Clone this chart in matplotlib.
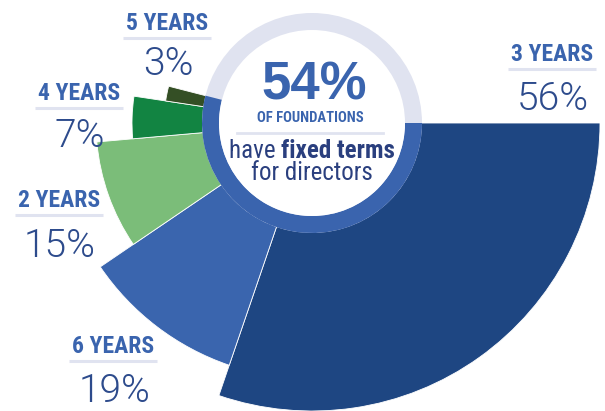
import matplotlib
matplotlib.use("Agg")
import matplotlib.pyplot as plt
from matplotlib.patches import Wedge, Circle
from matplotlib import font_manager

# data
terms = ["3 YEARS", "6 YEARS", "2 YEARS", "4 YEARS", "5 YEARS"]
shares = [56, 19, 15, 7, 3]
fixed_share = 54
headline_lines = ["OF FOUNDATIONS", "have", "fixed terms", "for directors"]

# style
wedge_colors = ["#1e4682", "#3a65ae", "#7bbd79", "#128442", "#344f25"]
wedge_radii = [288, 256, 216, 180, 148]
label_pos = [(552, 61, 110), (113, 353, 402), (59, 207, 257), (79, 100, 147), (167, 30, 75)]
label_halfwidth = 44
blue = "#3a64ae"
navy = "#2a3f7e"
pale = "#e0e3f0"
cx, cy = 312, 123


def pick(cands):
    names = {f.name for f in font_manager.fontManager.ttflist}
    for c in cands:
        if c in names:
            return c
    return "DejaVu Sans"


def light_props(size):
    # find a real "Light" face on disk, preferring Roboto
    for fam in ["Roboto", "Open Sans", "Lato", "Noto Sans"]:
        for f in font_manager.fontManager.ttflist:
            if f.name == fam and f.weight == 300 and f.style == "normal":
                return font_manager.FontProperties(fname=f.fname, size=size)
    return font_manager.FontProperties(family="DejaVu Sans", size=size)


narrow = pick(["Liberation Sans Narrow", "Roboto Condensed", "Open Sans Condensed", "Liberation Sans"])
pct_font = light_props(28)

fig = plt.figure(figsize=(6.05, 4.11), dpi=100)
ax = fig.add_axes([0, 0, 1, 1])
ax.set_xlim(0, 605)
ax.set_ylim(411, 0)
ax.axis("off")

# wedges, clockwise from the right (y axis is inverted)
total_angle = 360 * fixed_share / 100
start = 0
for share, color, r in zip(shares, wedge_colors, wedge_radii):
    span = total_angle * share / 100
    ax.add_patch(Wedge((cx, cy), r, start, start + span, facecolor=color,
                       edgecolor="white", linewidth=0.6, zorder=1))
    start += span

# center ring
ax.add_patch(Circle((cx, cy), 110, facecolor=pale, edgecolor="none", zorder=2))
ax.add_patch(Wedge((cx, cy), 110, 0, total_angle, width=17, facecolor=blue,
                   edgecolor="none", zorder=3))
ax.add_patch(Circle((cx, cy), 93, facecolor="white", edgecolor="none", zorder=4))

ax.text(cx + 2, 99, f"{fixed_share}%", ha="center", va="baseline", fontsize=38,
        fontweight="bold", color=blue, family="Liberation Sans", zorder=5)
ax.text(cx - 2, 122, headline_lines[0], ha="center", va="baseline", fontsize=10.5,
        fontweight="bold", color=blue, family=narrow, zorder=5)
ax.plot([237, 383], [133, 133], color=pale, linewidth=2, zorder=5)

# "have fixed terms" with mixed weight, centered as one line
fig.canvas.draw()
renderer = fig.canvas.get_renderer()
t1 = ax.text(0, 158, headline_lines[1] + " ", ha="left", va="baseline", fontsize=18,
             color=navy, family=narrow, zorder=5)
t2 = ax.text(0, 158, headline_lines[2], ha="left", va="baseline", fontsize=18,
             fontweight="bold", color=navy, family=narrow, zorder=5)
w1 = t1.get_window_extent(renderer).width
w2 = t2.get_window_extent(renderer).width
x0 = cx - (w1 + w2) / 2
t1.set_x(x0)
t2.set_x(x0 + w1)
ax.text(cx, 180, headline_lines[3], ha="center", va="baseline", fontsize=18,
        color=navy, family=narrow, zorder=5)

# outer labels
for term, share, (lx, ly, py) in zip(terms, shares, label_pos):
    ax.text(lx, ly, term, ha="center", va="baseline", fontsize=17, fontweight="bold",
            color=blue, family=narrow, zorder=5)
    ax.plot([lx - label_halfwidth, lx + label_halfwidth], [ly + 8, ly + 8],
            color=pale, linewidth=2.2, zorder=5, solid_capstyle="butt")
    ax.text(lx + 1, py, f"{share}%", ha="center", va="baseline",
            fontproperties=pct_font, color="#2d4b8c", zorder=5)

fig.savefig("out.png", dpi=100)
